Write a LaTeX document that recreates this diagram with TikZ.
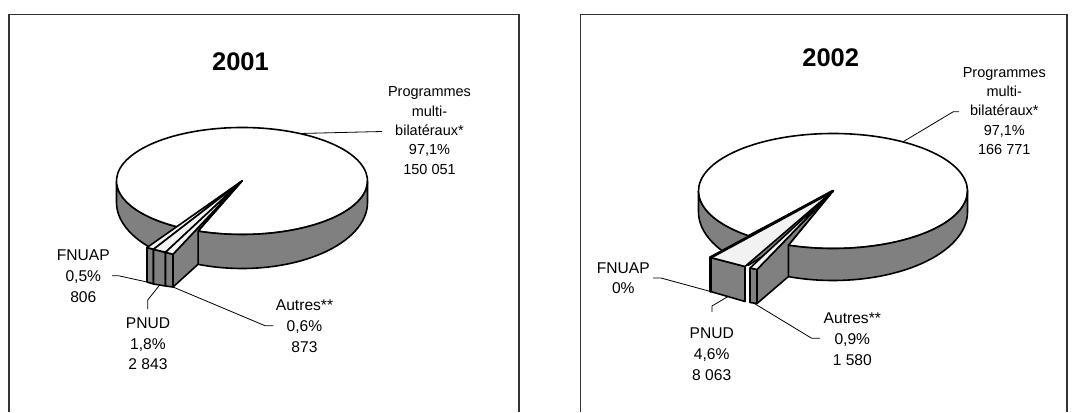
\documentclass[tikz,border=0pt]{standalone}
\usepackage{fontspec}
\setmainfont{Liberation Sans}
\usetikzlibrary{calc}
\definecolor{bandgray}{RGB}{128,128,128}
\definecolor{lightface}{RGB}{242,242,242}
\begin{document}
\begin{tikzpicture}[x=1pt,y=-1pt,
  pieline/.style={draw=black, line width=1.6pt, line join=round},
  band/.style={pieline, fill=bandgray},
  topface/.style={pieline, fill=white},
  slicetop/.style={pieline, fill=lightface},
  leader/.style={draw=black, line width=0.8pt},
  frameline/.style={draw=black!80, line width=1.2pt},
  lbl/.style={inner sep=0pt, anchor=north, align=center, font=\fontsize{15.6}{20.7}\selectfont},
  plbl/.style={inner sep=0pt, anchor=north, align=center, font=\fontsize{14.5}{19.3}\selectfont},
  ttl/.style={inner sep=0pt, anchor=north, font=\fontsize{25.5}{30}\selectfont\bfseries}]
\useasboundingbox (0,0) rectangle (1078,412);

% frames
\draw[frameline] (9,412) -- (9,14.5) -- (519,14.5) -- (519,412);
\draw[frameline] (580.5,412) -- (580.5,14.5) -- (1067,14.5) -- (1067,412);

% ================= 2001 =================
\coordinate (Ca) at (242,181);
\coordinate (Cab) at (242,202.5);
\draw[band] ($(Ca)+(180:125.5 and 53.5)$) arc[start angle=180,end angle=121,x radius=125.5,y radius=53.5]
  -- ($(Cab)+(121:125.5 and 66)$) arc[start angle=121,end angle=180,x radius=125.5,y radius=66] -- cycle;
\draw[band] (Ca) -- ($(Ca)+(121:125.5 and 53.5)$) -- ($(Cab)+(121:125.5 and 66)$) -- (Cab) -- cycle;
\draw[topface] (Ca) -- ($(Ca)+(121:125.5 and 53.5)$) arc[start angle=121,end angle=470.5,x radius=125.5,y radius=53.5] -- cycle;
\draw[band] ($(Ca)+(0:125.5 and 53.5)$) arc[start angle=0,end angle=110.5,x radius=125.5,y radius=53.5]
  -- ($(Cab)+(110.5:125.5 and 66)$) arc[start angle=110.5,end angle=0,x radius=125.5,y radius=66] -- cycle;

\coordinate (aA) at (147,247.5);
\coordinate (aAb) at (147,282);
\coordinate (aF1) at (153.5,249.3);
\coordinate (aF1b) at (153.5,284);
\coordinate (aF2) at (165.5,252.3);
\coordinate (aF2b) at (165.5,286);
\coordinate (aB) at (173,254.3);
\coordinate (aBb) at (173,287);
\coordinate (aP) at ($(Cab)+(110.5:125.5 and 66)$);
\coordinate (aQ) at ($(Ca)+(110.5:125.5 and 53.5)$);
\draw[band] (Ca) -- (aB) -- (aBb) -- (aP) -- (aQ) -- cycle;
\draw[band] (aA) -- (aF1) -- (aF1b) -- (aAb) -- cycle;
\draw[band] (aF1) -- (aF2) -- (aF2b) -- (aF1b) -- cycle;
\draw[band] (aF2) -- (aB) -- (aBb) -- (aF2b) -- cycle;
\draw[slicetop] (Ca) -- (aA) -- (aF1) -- cycle;
\draw[slicetop] (Ca) -- (aF1) -- (aF2) -- cycle;
\draw[slicetop] (Ca) -- (aF2) -- (aB) -- cycle;

\node[ttl] (ta) at (240.5,50.5) {\rule{0pt}{20pt}2001};
\node[plbl] (pa) at (429.5,84.7) {\rule{0pt}{12pt}Programmes\\multi-\\bilatéraux*\\97,1\%\\150 051};
\node[lbl] (fa) at (83.3,248.7) {\rule{0pt}{12pt}FNUAP\\0,5\%\\806};
\node[lbl] (na) at (148,316.3) {\rule{0pt}{12pt}PNUD\\1,8\%\\2 843};
\node[lbl] (oa) at (304.5,298.5) {\rule{0pt}{12pt}Autres**\\0,6\%\\873};

\coordinate (paS) at (300,133.5);
\coordinate (paE) at (382,131.5);
\draw[leader] (paS) -- (paE);
\coordinate (faE) at (112,275.7);
\coordinate (faK) at (118.3,275.7);
\draw[leader] (faE) -- (faK) -- (aAb);
\coordinate (naS) at (159.3,285.5);
\coordinate (naK) at (147.7,300);
\coordinate (naE) at (147.7,309);
\draw[leader] (naS) -- (naK) -- (naE);
\coordinate (oaK) at (265,325.7);
\coordinate (oaE) at (273.3,325.7);
\draw[leader] (aBb) -- (oaK) -- (oaE);

% ================= 2002 =================
\coordinate (Cb) at (833,191);
\coordinate (Cbb) at (833,212);
\draw[band] ($(Cb)+(180:134.5 and 57.5)$) arc[start angle=180,end angle=129,x radius=134.5,y radius=57.5]
  -- ($(Cbb)+(129:134.5 and 68.5)$) arc[start angle=129,end angle=180,x radius=134.5,y radius=68.5] -- cycle;
\draw[band] (Cb) -- ($(Cb)+(129:134.5 and 57.5)$) -- ($(Cbb)+(129:134.5 and 68.5)$) -- (Cbb) -- cycle;
\draw[topface] (Cb) -- ($(Cb)+(129:134.5 and 57.5)$) arc[start angle=129,end angle=469.4,x radius=134.5,y radius=57.5] -- cycle;
\draw[band] ($(Cb)+(0:134.5 and 57.5)$) arc[start angle=0,end angle=109.4,x radius=134.5,y radius=57.5]
  -- ($(Cbb)+(109.4:134.5 and 68.5)$) arc[start angle=109.4,end angle=0,x radius=134.5,y radius=68.5] -- cycle;

\coordinate (bA) at (710.5,257.5);
\coordinate (bAb) at (710.5,291.5);
\coordinate (bG) at (745,266.5);
\coordinate (bGb) at (745,301.5);
\coordinate (bH1) at (750,268);
\coordinate (bH1b) at (750,302.5);
\coordinate (bH2) at (757,269.5);
\coordinate (bH2b) at (757,303.5);
\coordinate (bP) at ($(Cbb)+(109.4:134.5 and 68.5)$);
\coordinate (bQ) at ($(Cb)+(109.4:134.5 and 57.5)$);
\draw[band] (Cb) -- (bH2) -- (bH2b) -- (bP) -- (bQ) -- cycle;
\draw[band] (bH1) -- (bH2) -- (bH2b) -- (bH1b) -- cycle;
\draw[band] (bA) -- (bG) -- (bGb) -- (bAb) -- cycle;
\draw[slicetop] (Cb) -- (bA) -- (bG) -- cycle;
\draw[slicetop] (Cb) -- (bH1) -- (bH2) -- cycle;
\draw[draw=black, line width=2.8pt, line cap=round] (Cb) -- (bA) -- (bAb);

\node[ttl] (tb) at (830.7,46) {\rule{0pt}{20pt}2002};
\node[plbl] (pb) at (1004.3,65) {\rule{0pt}{12pt}Programmes\\multi-\\bilatéraux*\\97,1\%\\166 771};
\node[lbl] (fb) at (623.3,261) {\rule{0pt}{12pt}FNUAP\\0\%};
\node[lbl] (nb) at (711.7,326.5) {\rule{0pt}{12pt}PNUD\\4,6\%\\8 063};
\node[lbl] (ob) at (852.3,311.5) {\rule{0pt}{12pt}Autres**\\0,9\%\\1 580};

\coordinate (pbS) at (903.5,141.5);
\coordinate (pbK) at (953.3,111.7);
\coordinate (pbE) at (959,111.7);
\draw[leader] (pbS) -- (pbK) -- (pbE);
\coordinate (fbE) at (653,278);
\coordinate (fbK) at (661,278);
\draw[leader] (fbE) -- (fbK) -- (bAb);
\coordinate (nbS) at (728,296.5);
\coordinate (nbK) at (712,306);
\coordinate (nbE) at (712,312);
\draw[leader] (nbS) -- (nbK) -- (nbE);
\coordinate (obS) at (753.5,303);
\coordinate (obK) at (811.7,338.3);
\coordinate (obE) at (820,338.3);
\draw[leader] (obS) -- (obK) -- (obE);
\end{tikzpicture}
\end{document}
